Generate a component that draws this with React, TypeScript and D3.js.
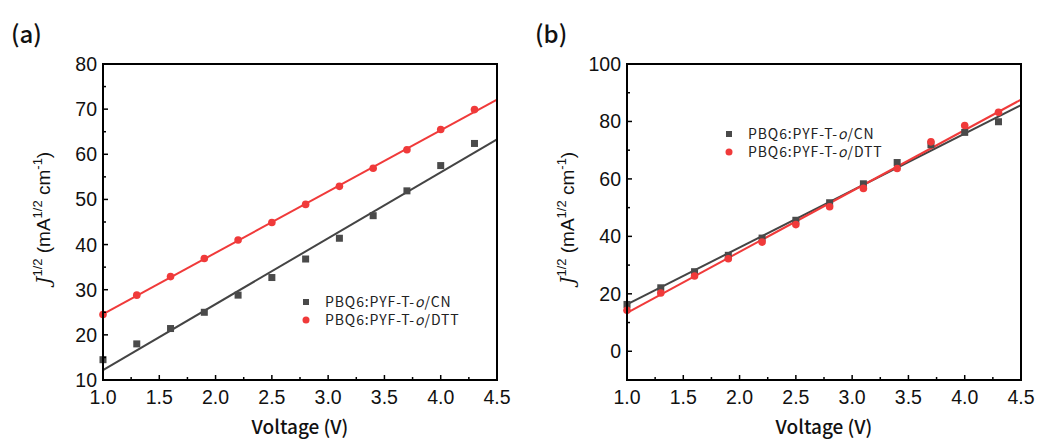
import React from 'react';
import * as d3 from 'd3';

// Voltage points (V)
const voltage = [1.0, 1.3, 1.6, 1.9, 2.2, 2.5, 2.8, 3.1, 3.4, 3.7, 4.0, 4.3];

// Panel (a) J^1/2 values
const cnA = [14.5, 18.0, 21.4, 25.0, 28.8, 32.7, 36.8, 41.4, 46.4, 51.9, 57.5, 62.4];
const dttA = [24.5, 28.8, 32.9, 36.9, 41.0, 44.9, 48.9, 52.9, 56.9, 61.0, 65.5, 69.9];
// Panel (b) J^1/2 values
const cnB = [16.3, 22.1, 27.7, 33.4, 39.4, 45.6, 51.7, 58.3, 65.7, 71.9, 76.2, 79.9];
const dttB = [14.3, 20.3, 26.2, 32.2, 38.0, 44.1, 50.3, 56.7, 63.6, 72.9, 78.6, 83.2];

// Linear fit endpoints: [x, y]
const fitCnA: [number, number][] = [[1.0, 12.2], [4.5, 63.3]];
const fitDttA: [number, number][] = [[1.0, 24.6], [4.5, 72.1]];
const fitCnB: [number, number][] = [[1.0, 16.3], [4.5, 85.7]];
const fitDttB: [number, number][] = [[1.0, 13.4], [4.5, 87.6]];

const xTicks = [1.0, 1.5, 2.0, 2.5, 3.0, 3.5, 4.0, 4.5];
const yTicksA = [10, 20, 30, 40, 50, 60, 70, 80];
const yTicksB = [0, 20, 40, 60, 80, 100];

const seriesNames = ['PBQ6:PYF-T-', '/CN', '/DTT'];

const GREY = '#4a4a4a';
const RED = '#f03a3a';
const FONT = 'Liberation Sans, Arial, sans-serif';
const CJK = 'Noto Sans CJK SC, Noto Sans, sans-serif';

type PanelProps = {
  ox: number;
  tag: string;
  yDomain: [number, number];
  yTicks: number[];
  yMinorStep: number;
  cn: number[];
  dtt: number[];
  fitCn: [number, number][];
  fitDtt: [number, number][];
  legendX: number;
  legendY: number;
};

function Panel(p: PanelProps) {
  const left = p.ox + 103;
  const right = p.ox + 497;
  const top = 64;
  const bottom = 380;
  const x = d3.scaleLinear().domain([1.0, 4.5]).range([left, right]);
  const y = d3.scaleLinear().domain(p.yDomain).range([bottom, top]);
  const line = d3.line<[number, number]>().x(d => x(d[0])).y(d => y(d[1]));
  const xMinor = d3.range(1.25, 4.5, 0.5);
  const yMinor = d3.range(p.yDomain[0], p.yDomain[1] + 0.001, p.yMinorStep)
    .filter(v => !p.yTicks.includes(v));

  return (
    <g>
      <text x={p.ox + 11} y={43} fontFamily={CJK} fontWeight={500} fontSize={24} fill="#111">{p.tag}</text>
      <defs>
        <clipPath id={`clip-${p.tag}`}>
          <rect x={left} y={top} width={right - left} height={bottom - top} />
        </clipPath>
      </defs>
      <g clipPath={`url(#clip-${p.tag})`}>
        <path d={line(p.fitCn) || ''} stroke="#444" strokeWidth={2} fill="none" />
        <path d={line(p.fitDtt) || ''} stroke={RED} strokeWidth={2} fill="none" />
        {voltage.map((v, i) => (
          <rect key={'c' + i} x={x(v) - 3.5} y={y(p.cn[i]) - 3.5} width={7} height={7} fill={GREY} />
        ))}
        {voltage.map((v, i) => (
          <circle key={'d' + i} cx={x(v)} cy={y(p.dtt[i])} r={3.8} fill={RED} />
        ))}
      </g>
      <rect x={left} y={top} width={right - left} height={bottom - top} fill="none" stroke="#000" strokeWidth={2} />
      {xTicks.map(t => (
        <g key={'xt' + t}>
          <line x1={x(t)} x2={x(t)} y1={bottom} y2={bottom - 5} stroke="#000" strokeWidth={1.5} />
          <text x={x(t)} y={404} textAnchor="middle" fontFamily={FONT} fontSize={19.5} fill="#111">{t.toFixed(1)}</text>
        </g>
      ))}
      {xMinor.map(t => (
        <line key={'xm' + t} x1={x(t)} x2={x(t)} y1={bottom} y2={bottom - 3} stroke="#000" strokeWidth={1.5} />
      ))}
      {p.yTicks.map(t => (
        <g key={'yt' + t}>
          <line x1={left} x2={left + 5} y1={y(t)} y2={y(t)} stroke="#000" strokeWidth={1.5} />
          <text x={left - 6} y={y(t) + 7} textAnchor="end" fontFamily={FONT} fontSize={19.5} fill="#111">{t}</text>
        </g>
      ))}
      {yMinor.map(t => (
        <line key={'ym' + t} x1={left} x2={left + 3} y1={y(t)} y2={y(t)} stroke="#000" strokeWidth={1.5} />
      ))}
      <text x={(left + right) / 2} y={434} textAnchor="middle" fontFamily={CJK} fontWeight={500} fontSize={19} fill="#111">Voltage (V)</text>
      <text transform={`translate(${p.ox + 50},${(top + bottom) / 2 - 4}) rotate(-90)`} textAnchor="middle" fontFamily={FONT} fontSize={19} fill="#111">
        <tspan fontStyle="italic" fontFamily="DejaVu Serif, serif">J</tspan>
        <tspan fontSize={13} dy={-8}>1/2</tspan>
        <tspan dy={8}> (mA</tspan>
        <tspan fontSize={13} dy={-8}>1/2</tspan>
        <tspan dy={8}> cm</tspan>
        <tspan fontSize={13} dy={-8}>-1</tspan>
        <tspan dy={8}>)</tspan>
      </text>
      <g fontFamily={CJK} fontSize={14} letterSpacing={0.9} fill="#222">
        <rect x={p.legendX - 3} y={p.legendY - 3} width={6} height={6} fill={GREY} />
        <text x={p.legendX + 19} y={p.legendY + 5}>
          {seriesNames[0]}<tspan fontStyle="italic">o</tspan>{seriesNames[1]}
        </text>
        <circle cx={p.legendX} cy={p.legendY + 18} r={3.5} fill={RED} />
        <text x={p.legendX + 19} y={p.legendY + 23}>
          {seriesNames[0]}<tspan fontStyle="italic">o</tspan>{seriesNames[2]}
        </text>
      </g>
    </g>
  );
}

export default function App() {
  return (
    <svg width={1037} height={439} style={{ position: 'absolute', left: 0, top: 0, background: '#fff' }}>
      <Panel ox={0} tag="(a)" yDomain={[10, 80]} yTicks={yTicksA} yMinorStep={5}
        cn={cnA} dtt={dttA} fitCn={fitCnA} fitDtt={fitDttA} legendX={306} legendY={302} />
      <Panel ox={524} tag="(b)" yDomain={[-10, 100]} yTicks={yTicksB} yMinorStep={10}
        cn={cnB} dtt={dttB} fitCn={fitCnB} fitDtt={fitDttB} legendX={729} legendY={134} />
    </svg>
  );
}
